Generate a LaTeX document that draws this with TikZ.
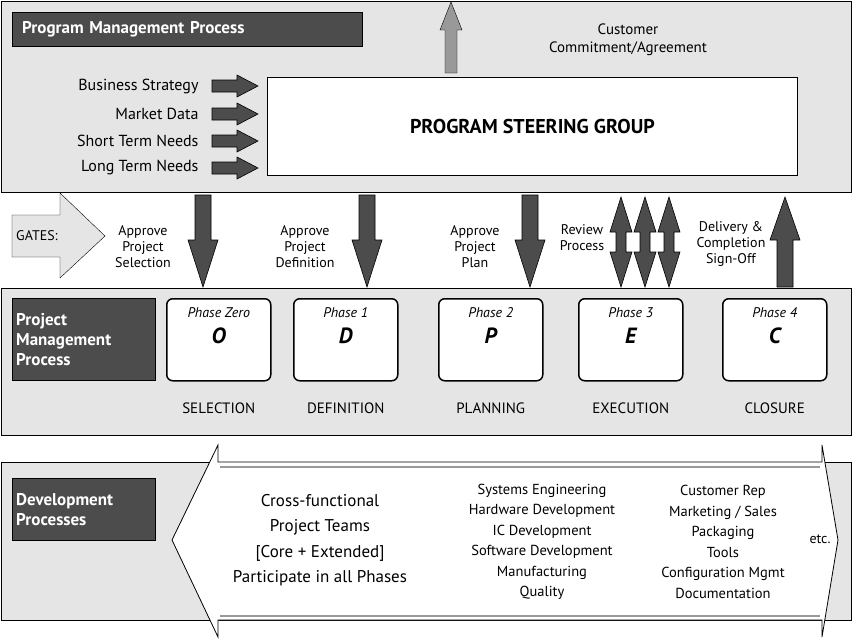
\documentclass[tikz,border=0pt]{standalone}
\usepackage{fontspec}
\setmainfont{PT Sans}
\begin{document}
\begin{tikzpicture}[x=1pt,y=-1pt,
  panel/.style={draw=black,line width=1pt,fill=black!10},
  title/.style={draw=black,fill=black!70,text=white,font=\bfseries\fontsize{17}{20}\selectfont,align=left,anchor=north west,inner sep=0pt},
  phase/.style={draw=black,line width=1.5pt,fill=white,rounded corners=6pt,minimum width=104pt,minimum height=82pt,anchor=north west},
  arr/.style={draw=black,fill=black!70,line width=0.6pt},
  lbl/.style={font=\fontsize{14}{16}\selectfont,align=center},
  inlbl/.style={font=\fontsize{16}{19}\selectfont,anchor=east}]
\useasboundingbox (0,0) rectangle (852,640);
% panels
\draw[panel] (1,1) rectangle (851,192);
\draw[panel] (1,288) rectangle (851,435);
\draw[panel] (1,462) rectangle (851,620);
% titles
\node[title,minimum width=350pt,minimum height=34pt,text width=330pt,inner xsep=10pt] (t1) at (12,12) {Program Management Process};
\node[title,minimum width=143pt,minimum height=82pt,text width=135pt,inner xsep=4pt] (t2) at (12,298) {Project\\Management\\Process};
\node[title,minimum width=143pt,minimum height=62pt,text width=135pt,inner xsep=4pt] (t3) at (12,478) {Development\\Processes};
% steering group
\node[draw=black,fill=white,line width=0.8pt,minimum width=530pt,minimum height=98pt,anchor=north west,font=\bfseries\fontsize{20}{24}\selectfont] (psg) at (267,77) {PROGRAM STEERING GROUP};
% up arrow customer
\draw[draw=black,fill=black!40] (445,73) -- (445,30) -- (440,30) -- (451,2) -- (462,30) -- (457,30) -- (457,73) -- cycle;
\node[lbl,font=\fontsize{15}{18}\selectfont] (cust) at (628,40) {Customer\\Commitment/Agreement};
% inputs
\foreach \t/\y [count=\i] in {Business Strategy/86,Market Data/114,Short Term Needs/141,Long Term Needs/168}{
  \node[inlbl] (in\i) at (202,\y) {\t};
  \draw[arr] (212,\y-6) -- (237,\y-6) -- (237,\y-11) -- (258,\y) -- (237,\y+11) -- (237,\y+6) -- (212,\y+6) -- cycle;
}
% gates arrow
\draw[draw=black,fill=black!10] (12,215) -- (60,215) -- (60,193) -- (105,236) -- (60,278) -- (60,257) -- (12,257) -- cycle;
\node[lbl] (gates) at (37,236) {GATES:};
% down arrows
\foreach \x in {203,367,530}{
  \draw[arr] (\x-8,195) -- (\x+8,195) -- (\x+8,240) -- (\x+15,240) -- (\x,287) -- (\x-15,240) -- (\x-8,240) -- cycle;
}
% double arrows
\foreach \x in {621,645,669}{
  \draw[arr] (\x,197) -- (\x+11,232) -- (\x+5,232) -- (\x+5,252) -- (\x+11,252) -- (\x,287) -- (\x-11,252) -- (\x-5,252) -- (\x-5,232) -- (\x-11,232) -- cycle;
}
% up arrow
\draw[arr] (785,197) -- (800,240) -- (793,240) -- (793,287) -- (777,287) -- (777,240) -- (770,240) -- cycle;
% gate labels
\node[lbl] (g1) at (143,247) {Approve\\Project\\Selection};
\node[lbl] (g2) at (305,247) {Approve\\Project\\Definition};
\node[lbl] (g3) at (475,247) {Approve\\Project\\Plan};
\node[lbl] (g4) at (582,238) {Review\\Process};
\node[lbl] (g5) at (731,244) {Delivery \&\\Completion\\Sign-Off};
% phases
\foreach \x/\p/\l/\n [count=\i] in {166/Phase Zero/O/SELECTION,293/Phase 1/D/DEFINITION,438/Phase 2/P/PLANNING,578/Phase 3/E/EXECUTION,722/Phase 4/C/CLOSURE}{
  \node[phase] (ph\i) at (\x,298) {};
  \node[font=\itshape\fontsize{14}{16}\selectfont] (pt\i) at ([yshift=-15pt]ph\i.north) {\p};
  \node[font=\bfseries\itshape\fontsize{22}{26}\selectfont] (pl\i) at ([yshift=4pt]ph\i.center) {\l};
  \node[font=\fontsize{15}{18}\selectfont] (pn\i) at ([yshift=-27pt]ph\i.south) {\n};
}
% big double arrow
\draw[draw=black,fill=white,line width=0.8pt] (172,540) -- (218,445) -- (218,462) -- (822,462) -- (822,445) -- (838,540) -- (822,637) -- (822,620) -- (218,620) -- (218,637) -- cycle;
\draw[black!40,line width=2pt] (220,467) -- (820,467);
\draw[black!40,line width=2pt] (220,616) -- (820,616);
\node[font=\fontsize{17}{25.5}\selectfont,align=center] (dp1) at (320,540) {Cross-functional\\Project Teams\\{[}Core + Extended{]}\\Participate in all Phases};
\node[font=\fontsize{14.5}{20.5}\selectfont,align=center] (dp2) at (542,542) {Systems Engineering\\Hardware Development\\IC Development\\Software Development\\Manufacturing\\Quality};
\node[font=\fontsize{14.5}{20.5}\selectfont,align=center] (dp3) at (723,542) {Customer Rep\\Marketing / Sales\\Packaging\\Tools\\Configuration Mgmt\\Documentation};
\node[font=\fontsize{14}{16}\selectfont] (etc) at (820,539) {etc.};
\end{tikzpicture}
\end{document}
